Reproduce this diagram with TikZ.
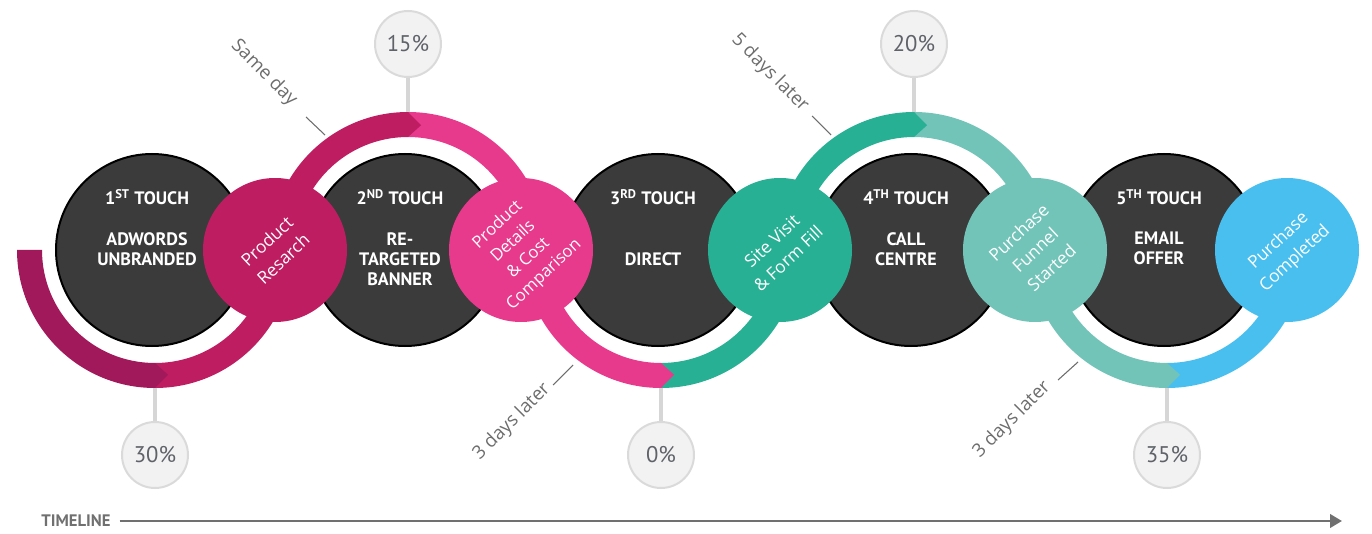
\documentclass[tikz,border=0pt]{standalone}
\usepackage{fontspec}
\setmainfont{Open Sans}
\newfontfamily\touchfont{PT Sans}
\usepackage{tikz}
\usetikzlibrary{shapes,arrows.meta,positioning,calc}

\definecolor{touchgrey}{HTML}{3B3B3B}
\definecolor{ringmaroon}{HTML}{A1195A}
\definecolor{ringcrimson}{HTML}{BE1E61}
\definecolor{ringpink}{HTML}{E83A8C}
\definecolor{ringteal}{HTML}{28B095}
\definecolor{ringmint}{HTML}{72C4B9}
\definecolor{ringblue}{HTML}{48BFEF}
\definecolor{pctfill}{HTML}{F2F2F2}
\definecolor{pctline}{HTML}{DADADA}
\definecolor{pcttext}{HTML}{5F6369}
\definecolor{stemgrey}{HTML}{D6D6D6}
\definecolor{lagtext}{HTML}{6D6D6D}
\definecolor{timegrey}{HTML}{707070}

\begin{document}
\begin{tikzpicture}[
    x=0.75pt, y=0.75pt,
    touch/.style = {circle, draw=black, line width=1.5pt, fill=touchgrey, minimum size=144pt, inner sep=0pt},
    stage/.style = {circle, minimum size=108pt, inner sep=0pt, text=white, align=center, rotate=43, font=\fontsize{13}{18}\selectfont},
    head/.style = {anchor=base, inner sep=0pt, text=white, font=\touchfont\bfseries\fontsize{13.5}{15}\selectfont},
    body/.style = {anchor=north, inner sep=0pt, text=white, align=center, font=\touchfont\bfseries\fontsize{13.5}{15}\selectfont},
    pct/.style = {circle, draw=pctline, line width=1.5pt, fill=pctfill, minimum size=49.5pt, inner sep=0pt, text=pcttext, font=\touchfont\fontsize{17}{20}\selectfont},
    stem/.style = {draw=stemgrey, line width=3pt},
    lag/.style = {text=lagtext, font=\fontsize{14}{16}\selectfont},
    tick/.style = {draw=lagtext, line width=0.8pt},
    timeline/.style = {text=timegrey, inner xsep=0pt, outer xsep=6.75pt, font=\touchfont\bfseries\fontsize{12.5}{14}\selectfont},
    timearrow/.style = {draw=timegrey, line width=2.2pt, -{Triangle[length=9pt,width=10pt]}}
]
\useasboundingbox (0,0) rectangle (1372,533);

% ring centres
\coordinate (c1) at (155,283);
\coordinate (c2) at (408,283);
\coordinate (c3) at (661,283);
\coordinate (c4) at (914,283);
\coordinate (c5) at (1167,283);

% touch circles
\node[touch] (t1) at ($(c1)+(-3,0)$) {};
\node[touch] (t2) at ($(c2)+(-3,0)$) {};
\node[touch] (t3) at ($(c3)+(-3,0)$) {};
\node[touch] (t4) at ($(c4)+(-3,0)$) {};
\node[touch] (t5) at ($(c5)+(-3,0)$) {};

\node[head] (h1) at ($(t1)+(-5,45)$) {1\textsuperscript{ST} TOUCH};
\node[head] (h2) at ($(t2)+(-5,45)$) {2\textsuperscript{ND} TOUCH};
\node[head] (h3) at ($(t3)+(-5,45)$) {3\textsuperscript{RD} TOUCH};
\node[head] (h4) at ($(t4)+(-5,45)$) {4\textsuperscript{TH} TOUCH};
\node[head] (h5) at ($(t5)+(-5,45)$) {5\textsuperscript{TH} TOUCH};

\node[body] (b1) at ($(t1)+(-5,18)$) {ADWORDS\\UNBRANDED};
\node[body] (b2) at ($(t2)+(-5,18)$) {RE-\\TARGETED\\BANNER};
\node[body] (b3) at ($(t3)+(-5,-2)$) {DIRECT};
\node[body] (b4) at ($(t4)+(-5,18)$) {CALL\\CENTRE};
\node[body] (b5) at ($(t5)+(-5,18)$) {EMAIL\\OFFER};

% rings
\fill[ringcrimson] ($(c1)+(270:138)$) arc[start angle=270, end angle=360, radius=138] -- ($(c1)+(0:113)$) arc[start angle=360, end angle=270, radius=113] -- cycle;
\fill[ringmaroon] ($(c1)+(180:138)$) arc[start angle=180, end angle=270, radius=138] -- ($(c1)+(276:125.5)$) -- ($(c1)+(270:113)$) arc[start angle=270, end angle=180, radius=113] -- cycle;

\fill[ringpink] ($(c2)+(90:138)$) arc[start angle=90, end angle=0, radius=138] -- ($(c2)+(0:113)$) arc[start angle=0, end angle=90, radius=113] -- cycle;
\fill[ringcrimson] ($(c2)+(180:138)$) arc[start angle=180, end angle=90, radius=138] -- ($(c2)+(84:125.5)$) -- ($(c2)+(90:113)$) arc[start angle=90, end angle=180, radius=113] -- cycle;

\fill[ringteal] ($(c3)+(270:138)$) arc[start angle=270, end angle=360, radius=138] -- ($(c3)+(0:113)$) arc[start angle=360, end angle=270, radius=113] -- cycle;
\fill[ringpink] ($(c3)+(180:138)$) arc[start angle=180, end angle=270, radius=138] -- ($(c3)+(276:125.5)$) -- ($(c3)+(270:113)$) arc[start angle=270, end angle=180, radius=113] -- cycle;

\fill[ringmint] ($(c4)+(90:138)$) arc[start angle=90, end angle=0, radius=138] -- ($(c4)+(0:113)$) arc[start angle=0, end angle=90, radius=113] -- cycle;
\fill[ringteal] ($(c4)+(180:138)$) arc[start angle=180, end angle=90, radius=138] -- ($(c4)+(84:125.5)$) -- ($(c4)+(90:113)$) arc[start angle=90, end angle=180, radius=113] -- cycle;

\fill[ringblue] ($(c5)+(270:138)$) arc[start angle=270, end angle=360, radius=138] -- ($(c5)+(0:113)$) arc[start angle=360, end angle=270, radius=113] -- cycle;
\fill[ringmint] ($(c5)+(180:138)$) arc[start angle=180, end angle=270, radius=138] -- ($(c5)+(276:125.5)$) -- ($(c5)+(270:113)$) arc[start angle=270, end angle=180, radius=113] -- cycle;

% stage circles
\node[stage, fill=ringcrimson] (s1) at ($(c1)+(120,0)$) {Product\\Resarch};
\node[stage, fill=ringpink, font=\fontsize{12.5}{17}\selectfont] (s2) at ($(c2)+(113,0)$) {Product\\Details\\\& Cost\\Comparison};
\node[stage, fill=ringteal] (s3) at ($(c3)+(119,0)$) {Site Visit\\\& Form Fill};
\node[stage, fill=ringmint] (s4) at ($(c4)+(121,0)$) {Purchase\\Funnel\\Started};
\node[stage, fill=ringblue] (s5) at ($(c5)+(120,0)$) {Purchase\\Completed};

% percentages
\node[pct] (p1) at ($(c1)+(0,-205)$) {30\%};
\node[pct] (p2) at ($(c2)+(0,206)$) {15\%};
\node[pct] (p3) at ($(c3)+(0,-205)$) {0\%};
\node[pct] (p4) at ($(c4)+(0,206)$) {20\%};
\node[pct] (p5) at ($(c5)+(0,-205)$) {35\%};

\coordinate (r1) at ($(c1)+(0,-138)$);
\coordinate (r2) at ($(c2)+(0,138)$);
\coordinate (r3) at ($(c3)+(0,-138)$);
\coordinate (r4) at ($(c4)+(0,138)$);
\coordinate (r5) at ($(c5)+(0,-138)$);

\draw[stem] (p1) -- (r1);
\draw[stem] (p2) -- (r2);
\draw[stem] (p3) -- (r3);
\draw[stem] (p4) -- (r4);
\draw[stem] (p5) -- (r5);

% time between touches
\node[lag, rotate=-45] (l1) at (264,460) {Same day};
\node[lag, rotate=-45] (l2) at (770,460) {5 days later};
\node[lag, rotate=45] (l3) at (512,111) {3 days later};
\node[lag, rotate=45] (l4) at (1012,113) {3 days later};

\coordinate (k1a) at (306,416); \coordinate (k1b) at (325,398);
\coordinate (k2a) at (812,417); \coordinate (k2b) at (831,398);
\coordinate (k3a) at (553,148); \coordinate (k3b) at (573,168);
\coordinate (k4a) at (1058,153); \coordinate (k4b) at (1078,171);

\draw[tick] (k1a) -- (k1b);
\draw[tick] (k2a) -- (k2b);
\draw[tick] (k3a) -- (k3b);
\draw[tick] (k4a) -- (k4b);

% timeline
\node[timeline] (tl) at (76,12) {TIMELINE};
\coordinate (tlend) at (1342,12);
\draw[timearrow] (tl) -- (tlend);
\end{tikzpicture}
\end{document}
